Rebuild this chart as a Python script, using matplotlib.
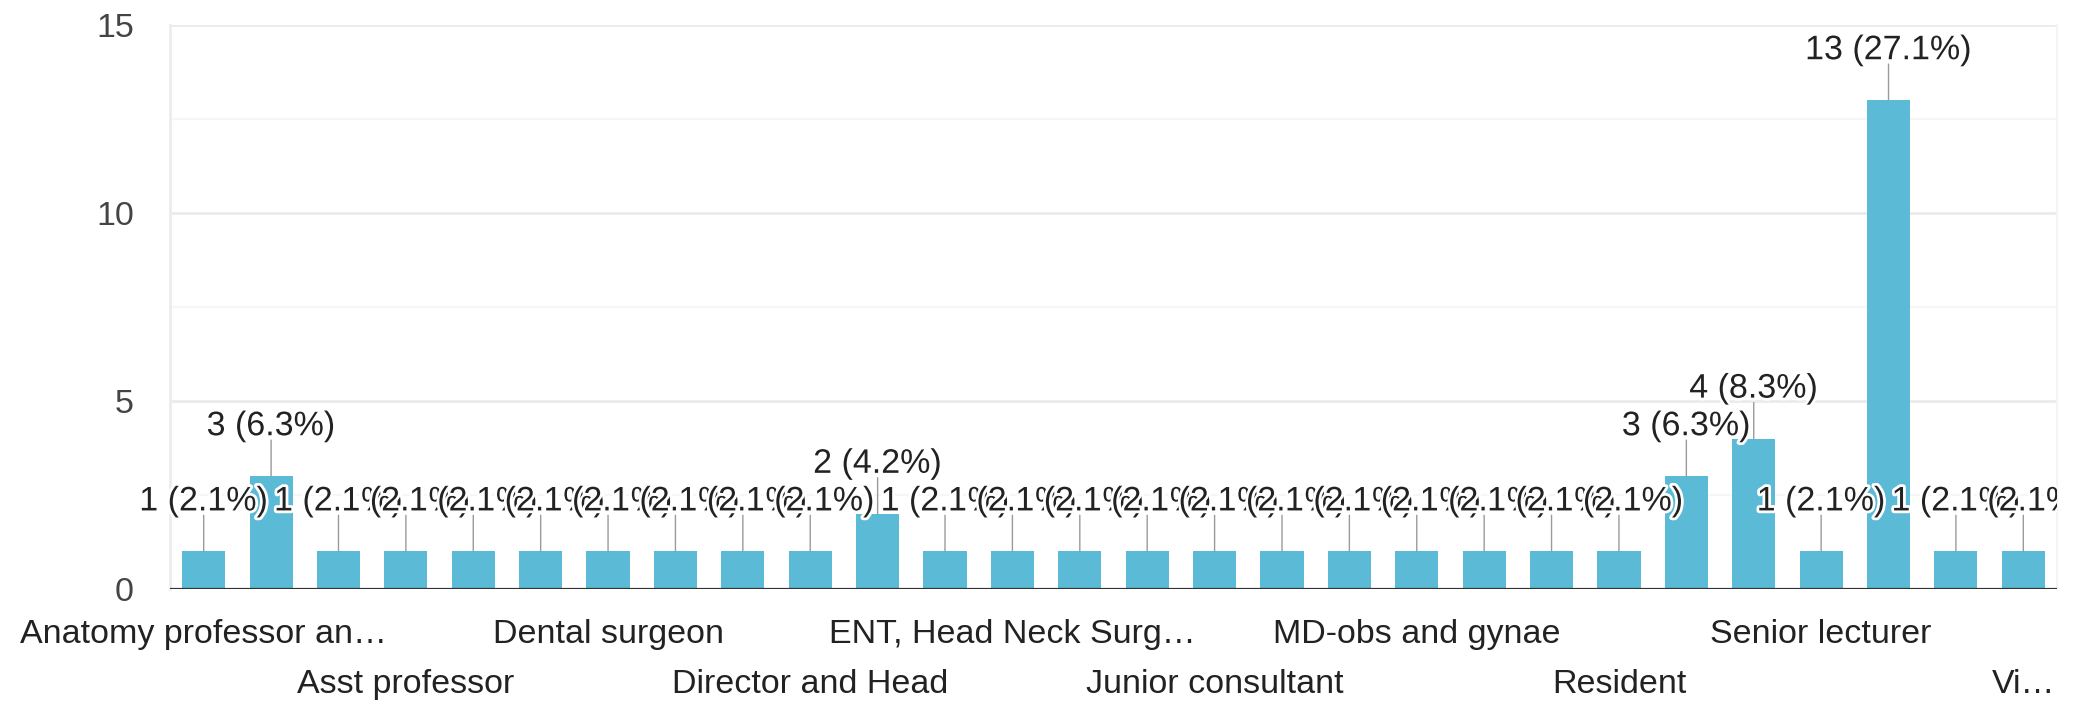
import matplotlib

matplotlib.use("Agg")
from decimal import ROUND_HALF_UP, Decimal

import matplotlib.patheffects as pe
import matplotlib.pyplot as plt
import numpy as np
from matplotlib.patches import Rectangle

# Responses per job title, 48 answers in total.
counts = [1, 3, 1, 1, 1, 1, 1, 1, 1, 1, 2, 1, 1, 1, 1, 1, 1, 1, 1, 1, 1, 1, 3, 4, 1, 13, 1, 1]

# Only every third title fits under the axis; they alternate between two rows.
label_positions = [0, 3, 6, 9, 12, 15, 18, 21, 24, 27]
axis_labels = [
    "Anatomy professor an…",
    "Asst professor",
    "Dental surgeon",
    "Director and Head",
    "ENT, Head Neck Surg…",
    "Junior consultant",
    "MD-obs and gynae",
    "Resident",
    "Senior lecturer",
    "Vi…",
]
y_ticks = [0, 5, 10, 15]

BAR_COLOR = "#5bbad5"
TEXT_COLOR = "#222222"
FONT = "Liberation Sans"
FONT_SIZE = 24.5


def pct_label(count, total):
    pct = Decimal(100 * count) / Decimal(total)
    pct = pct.quantize(Decimal("0.1"), rounding=ROUND_HALF_UP)
    return f"{count} ({pct}%)"


plt.rcParams["font.family"] = [FONT, "DejaVu Sans"]

fig = plt.figure(figsize=(20.8, 7.01), dpi=100)
ax = fig.add_axes([170 / 2080, 1 - 589 / 701, (2057 - 170) / 2080, (589 - 25) / 701])

x = np.arange(len(counts))
ax.bar(x, counts, width=0.64, color=BAR_COLOR, zorder=2)
ax.axhline(0, color="#333333", lw=2.3, zorder=3)

ax.set_xlim(-0.5, len(counts) - 0.5)
ax.set_ylim(0, 15)
ax.set_xticks([])
ax.set_yticks(y_ticks)
ax.set_yticks([2.5, 7.5, 12.5], minor=True)
ax.grid(which="major", axis="y", color="#ebebeb", lw=2, zorder=0)
ax.grid(which="minor", axis="y", color="#f6f6f6", lw=1.5, zorder=0)
ax.tick_params(axis="y", which="both", length=0, pad=26, labelsize=FONT_SIZE,
               labelcolor="#444444")
for lab in ax.get_yticklabels():
    lab.set_fontfamily(FONT)

for side in ("top", "bottom"):
    ax.spines[side].set_visible(False)
ax.spines["left"].set_color("#ececec")
ax.spines["left"].set_linewidth(2)
ax.spines["right"].set_color("#f3f3f3")
ax.spines["right"].set_linewidth(1.5)

# value labels get clipped on the right edge of the plot only
clip_rect = Rectangle((-0.2, -0.2), 1.2, 1.4, transform=ax.transAxes)

total = sum(counts)
halo = [pe.withStroke(linewidth=4, foreground="white")]
for i, c in enumerate(counts):
    ax.annotate("", xy=(i, c), xytext=(0, 26), textcoords="offset points",
                arrowprops=dict(arrowstyle="-", color="#9a9a9a", lw=1.0,
                                shrinkA=0, shrinkB=0),
                zorder=4)
    t = ax.annotate(pct_label(c, total), xy=(i, c), xytext=(0, 29.5),
                    textcoords="offset points", ha="center", va="baseline",
                    fontsize=FONT_SIZE, color=TEXT_COLOR, path_effects=halo,
                    zorder=5 + i * 0.01, annotation_clip=False)
    t.set_clip_path(clip_rect)

for k, (pos, name) in enumerate(zip(label_positions, axis_labels)):
    offset = -38.9 if k % 2 == 0 else -74.9
    ax.annotate(name, xy=(pos, 0), xycoords=("data", "axes fraction"),
                xytext=(0, offset), textcoords="offset points",
                ha="center", va="baseline", fontsize=FONT_SIZE,
                color=TEXT_COLOR, annotation_clip=False)

fig.savefig("out.png", dpi=100, facecolor="white")
